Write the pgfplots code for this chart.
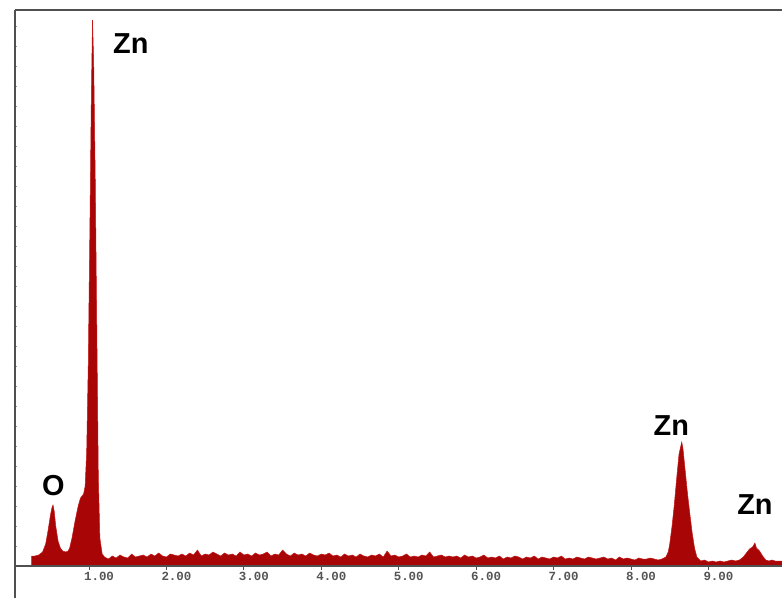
\documentclass[border=0pt]{standalone}
\usepackage{pgfplots}
\pgfplotsset{compat=1.18}
\usepackage{fontspec}
\setmainfont{Liberation Sans}
\newfontfamily\monofont{Liberation Mono}
\definecolor{specfill}{RGB}{168,6,6}
\definecolor{specedge}{RGB}{195,25,25}
\definecolor{framegray}{RGB}{80,80,80}
\definecolor{ticktext}{RGB}{85,85,85}

\pgfplotstableread{
x y
0.26 0
0.26 10
0.30 10
0.35 11
0.40 14
0.44 22
0.47 35
0.50 50
0.52 58
0.535 61
0.55 55
0.57 40
0.60 25
0.63 18
0.66 15
0.70 14
0.73 15
0.75 18
0.78 28
0.82 45
0.86 60
0.89 68
0.91 70
0.93 72
0.95 80
0.97 115
0.99 200
1.01 330
1.03 470
1.045 546
1.06 505
1.08 390
1.10 240
1.12 90
1.14 28
1.17 12
1.20 9
1.25 7
1.30 10
1.35 8
1.40 11
1.45 9
1.50 8
1.55 12
1.60 9
1.65 10
1.70 11
1.75 9
1.80 12
1.85 10
1.90 13
1.95 10
2.00 9
2.05 12
2.10 11
2.15 10
2.20 12
2.25 10
2.30 13
2.35 11
2.40 16
2.45 10
2.50 12
2.55 11
2.60 14
2.65 12
2.70 10
2.75 13
2.80 11
2.85 12
2.90 10
2.95 14
3.00 11
3.05 12
3.10 10
3.15 13
3.20 11
3.25 12
3.30 14
3.35 10
3.40 12
3.45 11
3.50 16
3.55 12
3.60 10
3.65 13
3.70 11
3.75 12
3.80 10
3.85 13
3.90 11
3.95 10
4.00 12
4.05 11
4.10 13
4.15 10
4.20 11
4.25 9
4.30 12
4.35 10
4.40 11
4.45 9
4.50 12
4.55 10
4.60 9
4.65 11
4.70 10
4.75 12
4.80 9
4.85 15
4.90 10
4.95 11
5.00 9
5.05 10
5.10 12
5.15 9
5.20 10
5.25 9
5.30 11
5.35 10
5.40 14
5.45 9
5.50 10
5.55 11
5.60 9
5.65 10
5.70 9
5.75 10
5.80 8
5.85 11
5.90 9
5.95 10
6.00 8
6.05 9
6.10 11
6.15 8
6.20 9
6.25 8
6.30 10
6.35 7
6.40 9
6.45 8
6.50 10
6.55 9
6.60 7
6.65 9
6.70 8
6.75 10
6.80 7
6.85 9
6.90 8
6.95 7
7.00 9
7.05 8
7.10 10
7.15 7
7.20 8
7.25 7
7.30 9
7.35 8
7.40 7
7.45 9
7.50 8
7.55 7
7.60 8
7.65 9
7.70 7
7.75 8
7.80 6
7.85 9
7.90 7
7.95 8
8.00 7
8.05 6
8.10 8
8.15 7
8.20 7
8.25 8
8.30 7
8.35 6
8.40 7
8.45 9
8.48 14
8.50 22
8.53 40
8.56 62
8.59 88
8.62 112
8.655 124
8.67 118
8.70 95
8.73 72
8.76 52
8.79 33
8.82 18
8.85 9
8.90 5
8.95 6
9.00 4
9.05 5
9.10 4
9.15 5
9.20 4
9.25 5
9.30 6
9.35 5
9.40 6
9.45 9
9.49 13
9.53 17
9.57 19
9.60 23
9.62 18
9.66 15
9.70 10
9.74 6
9.78 5
9.82 6
9.86 5
9.90 5
9.95 5
}\spectrum

\begin{document}
\begin{tikzpicture}
\begin{axis}[
  scale only axis,
  width=767bp, height=556bp,
  xmin=0.044, xmax=9.95,
  ymin=0, ymax=556,
  axis line style={draw=none},
  xtick pos=bottom, ytick pos=left,
  xtick={1,2,3,4,5,6,7,8,9},
  xticklabels={1.00,2.00,3.00,4.00,5.00,6.00,7.00,8.00,9.00},
  xticklabel style={font=\monofont\bfseries\fontsize{12.5}{12.5}\selectfont, text=ticktext, xshift=10bp, yshift=-1bp},
  ytick={20,40,...,540},
  yticklabels={},
  tick align=center,
  xtick style={draw=framegray, line width=1bp, /pgfplots/major tick length=7bp},
  ytick style={draw=framegray!60, line width=0.6bp, /pgfplots/major tick length=3bp},
  clip=false,
]
\addplot[fill=specfill, draw=specedge, line width=0.5bp] table[x=x,y=y] {\spectrum} \closedcycle;
\node[font=\bfseries\fontsize{29}{29}\selectfont] at (axis cs:1.54,522) {Zn};
\node[font=\bfseries\fontsize{29}{29}\selectfont] at (axis cs:8.52,140) {Zn};
\node[font=\bfseries\fontsize{29}{29}\selectfont] at (axis cs:9.60,61) {Zn};
\node[font=\bfseries\fontsize{29}{29}\selectfont] at (axis cs:0.54,80) {O};
\end{axis}
\draw[framegray, line width=1.6bp] (current axis.north west) -- (current axis.north east);
\draw[framegray, line width=1.6bp] (current axis.north west) -- ([yshift=-32bp]current axis.south west);
\draw[framegray, line width=1.4bp] (current axis.south west) -- (current axis.south east);
\pgfresetboundingbox
\useasboundingbox ([xshift=-15bp,yshift=-32bp]current axis.south west) rectangle ([yshift=10bp]current axis.north east);
\end{tikzpicture}
\end{document}
